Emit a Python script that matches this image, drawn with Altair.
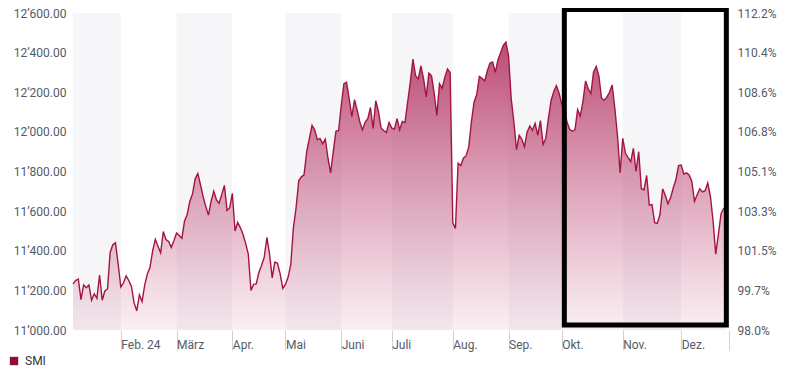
import altair as alt
import pandas as pd

# SMI daily closes, per month
jan = [11233, 11250, 11257, 11153, 11227, 11213, 11227, 11150, 11183, 11160, 11277, 11150,
       11197, 11207, 11393, 11430, 11440, 11333]
feb = [11217, 11237, 11273, 11250, 11220, 11137, 11097, 11177, 11143, 11227, 11283, 11317,
       11400, 11457, 11423, 11390, 11497, 11457, 11447, 11417, 11450]
mar = [11490, 11477, 11463, 11550, 11583, 11650, 11687, 11763, 11790, 11733, 11673, 11623,
       11580, 11650, 11700, 11657, 11640, 11683, 11730, 11603, 11617]
apr = [11690, 11500, 11543, 11517, 11483, 11437, 11383, 11200, 11230, 11233, 11290, 11327,
       11367, 11467, 11383, 11263, 11343, 11337, 11283, 11210]
may = [11230, 11267, 11330, 11517, 11617, 11753, 11773, 11783, 11900, 11967, 12033, 12010,
       11960, 11967, 11940, 11963, 11867, 11793, 11900, 12003, 12007]
jun = [12133, 12243, 12250, 12167, 12077, 12163, 12110, 12050, 12010, 12050, 12067, 12123,
       12017, 12157, 12103, 12020, 12007, 11997, 12047]
jul = [12020, 12013, 12067, 12010, 12053, 12047, 12150, 12250, 12367, 12283, 12267, 12333,
       12267, 12177, 12297, 12283, 12193, 12083, 12243, 12220, 12275, 12317, 12300]
aug = [11540, 11513, 11842, 11830, 11867, 11880, 11923, 12050, 12150, 12187, 12280, 12270,
       12257, 12307, 12347, 12353, 12300, 12363, 12400, 12437, 12453]
sep = [12383, 12167, 12050, 11910, 11983, 11963, 11925, 12000, 12030, 12008, 12043, 11983,
       12057, 11937, 11967, 12067, 12157, 12203, 12233, 12197]
okt = [12140, 12110, 12050, 12013, 12003, 12010, 12113, 12080, 12153, 12257, 12217, 12193,
       12303, 12330, 12283, 12170, 12160, 12175, 12200, 12237, 12120, 11983, 11793]
nov = [11967, 11892, 11870, 11850, 11917, 11800, 11900, 11713, 11707, 11780, 11630, 11633,
       11542, 11538, 11583, 11713, 11680, 11637, 11667, 11717, 11758, 11830]
dez = [11833, 11787, 11793, 11783, 11750, 11650, 11683, 11713, 11697, 11703, 11742, 11675,
       11550, 11383, 11483, 11587, 11613, 11620]

month_data = [jan, feb, mar, apr, may, jun, jul, aug, sep, okt, nov, dez]
month_labels = ["Jan.", "Feb. 24", "März", "Apr.", "Mai", "Juni", "Juli", "Aug.", "Sep.",
                "Okt.", "Nov.", "Dez."]

y_ticks = [11000, 11200, 11400, 11600, 11800, 12000, 12200, 12400, 12600]
pct_labels = ["98.0%", "99.7%", "101.5%", "103.3%", "105.1%", "106.8%", "108.6%", "110.4%", "112.2%"]

series_name = "SMI"

# build tables
values = [v for m in month_data for v in m]
N = len(values)
starts = []
s = 0
for m in month_data:
    starts.append(s)
    s += len(m)
ends = starts[1:] + [N]

df = pd.DataFrame({"i": list(range(N)), "v": values, "series": series_name})
bands = pd.DataFrame({"x": [starts[k] for k in range(0, 12, 2)],
                      "x2": [ends[k] for k in range(0, 12, 2)]})
box = pd.DataFrame({"x": [starts[9] + 1], "x2": [N - 1], "y": [12618], "y2": [11025]})

PAD = "\u2004\u200a"
tick_vals = starts[1:] + [N]
tick_lbls = month_labels[1:] + [""]
x_expr = "".join([f"datum.value == {v} ? '{PAD}{l}' : " for v, l in zip(tick_vals, tick_lbls)]) + "''"
pct_expr = "".join([f"datum.value == {v} ? '{l}' : " for v, l in zip(y_ticks, pct_labels)]) + "''"
left_expr = "replace(format(datum.value, ',.2f'), ',', '\u2019')"

FONT = "Roboto"
LC = "#555a66"
LINE = "#a3153f"

xscale = alt.Scale(domain=[0, N], nice=False, zero=False)
yscale = alt.Scale(domain=[11000, 12600], nice=False, zero=False)

x_axis = alt.Axis(values=tick_vals, labelExpr=x_expr, tickSize=20, tickColor="#d0d0d6",
                  labelAlign="left", labelPadding=-11, labelFlush=False,
                  labelOverlap=False, domain=False, grid=False, title=None,
                  labelFont=FONT, labelFontSize=12, labelColor=LC, labelBaseline="top")
left_axis = alt.Axis(values=y_ticks, labelExpr=left_expr, domain=False, ticks=False, grid=False,
                     title=None, labelPadding=7, labelFont=FONT, labelFontSize=12, labelColor=LC)
right_axis = alt.Axis(values=y_ticks, labelExpr=pct_expr, orient="right", domain=False, ticks=False,
                      grid=False, title=None, labelPadding=8, labelFont=FONT, labelFontSize=12,
                      labelColor=LC)

X_i = alt.X("i:Q", scale=xscale, axis=x_axis)

band_layer = alt.Chart(bands).mark_rect(color="#f6f6f8").encode(
    x=alt.X("x:Q", scale=xscale, axis=x_axis),
    x2="x2:Q",
    y=alt.Y("yb:Q", scale=yscale, axis=left_axis),
    y2="yb2:Q",
).transform_calculate(yb="12600", yb2="11000")

grad = alt.Gradient(gradient="linear",
                    stops=[alt.GradientStop(color="rgba(170,30,82,0.8)", offset=0),
                           alt.GradientStop(color="rgba(190,60,110,0.08)", offset=1)],
                    x1=1, x2=1, y1=0, y2=1)

area = alt.Chart(df).mark_area(fill=grad, line=False).encode(
    x=X_i,
    y=alt.Y("v:Q", scale=yscale, axis=None),
    y2=alt.datum(11000),
)

line = alt.Chart(df).mark_line(strokeWidth=1.4).encode(
    x=X_i,
    y=alt.Y("v:Q", scale=yscale, axis=None),
    color=alt.Color("series:N", scale=alt.Scale(domain=[series_name], range=[LINE]),
                    legend=alt.Legend(title=None, orient="none", legendX=-65, legendY=342,
                                      symbolType="square", symbolSize=70,
                                      symbolFillColor="#8e0d38", symbolStrokeColor="#8e0d38",
                                      symbolStrokeWidth=0, labelFont=FONT, labelFontSize=12,
                                      labelColor="#333", padding=0, labelOffset=5)),
)

box_layer = alt.Chart(box).mark_rect(fillOpacity=0, stroke="#000", strokeWidth=5).encode(
    x=alt.X("x:Q", scale=xscale, axis=x_axis),
    x2="x2:Q",
    y=alt.Y("y:Q", scale=yscale, axis=None),
    y2="y2:Q",
)

right = alt.Chart(df).mark_line(opacity=0).encode(
    x=X_i,
    y=alt.Y("v:Q", scale=yscale, axis=right_axis),
)

chart = alt.layer(band_layer, area, line, box_layer, right).resolve_axis(y="independent").properties(
    width=656, height=317, autosize="none",
    padding={"left": 65, "top": 5, "right": 50, "bottom": 38},
).configure_view(stroke=None)

chart.save("out.html", embed_options={"renderer": "svg", "actions": False})
